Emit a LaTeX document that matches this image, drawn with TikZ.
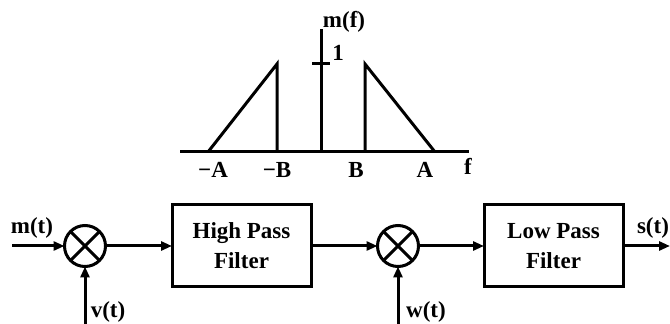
\documentclass[tikz,border=0pt]{standalone}
\usepackage{amsmath}
\usepackage{fontspec}
\setmainfont{Liberation Serif}
\usepackage{tikz}
\usetikzlibrary{arrows.meta}

\begin{document}
\begin{tikzpicture}[x=1pt, y=1pt, line width=3pt,
  every node/.style={font=\fontsize{23}{25}\selectfont\bfseries},
  mixer/.style={draw, circle, minimum size=41pt, inner sep=0pt, outer sep=0pt},
  filterbox/.style={draw, minimum width=139pt, minimum height=82pt, align=center,
    outer sep=0pt, font=\fontsize{23}{30}\selectfont\bfseries},
  sig/.style={-{Triangle[length=11pt,width=9pt]}}]
\useasboundingbox (0,0) rectangle (670,324);

% Spectrum
\draw (180,172) -- (469,172);
\draw (321,172) -- (321,295);
\draw (312,260) -- (330,260);
\draw (208,172) -- (277,260) -- (277,172);
\draw (365,172) -- (365,260) -- (435,172);

\node (mf) at (344,302) {m(f)};
\node (one) at (338,271) {1};
\node (mA) at (213,154) {−A};
\node (mB) at (277,154) {−B};
\node (pB) at (356,154) {B};
\node (pA) at (425,154) {A};
\node (fax) at (468,158) {f};

% Block diagram
\node[mixer] (mix1) at (85,78) {};
\draw (mix1.45) -- (mix1.225) (mix1.135) -- (mix1.315);
\node[filterbox] (hpf) at (241.5,78) {High Pass\\Filter};
\node[mixer] (mix2) at (398,78) {};
\draw (mix2.45) -- (mix2.225) (mix2.135) -- (mix2.315);
\node[filterbox] (lpf) at (553.5,78) {Low Pass\\Filter};

\coordinate (in) at (12,78);
\coordinate (out) at (670,78);
\coordinate (vin) at (85,0);
\coordinate (win) at (398,0);

\draw[sig] (in) -- (mix1);
\draw[sig] (vin) -- (mix1);
\draw[sig] (mix1) -- (hpf);
\draw[sig] (hpf) -- (mix2);
\draw[sig] (win) -- (mix2);
\draw[sig] (mix2) -- (lpf);
\draw[sig] (lpf) -- (out);

% Signal labels
\node (mt) at (32,96) {m(t)};
\node (vt) at (108,12) {v(t)};
\node (wt) at (426,12) {w(t)};
\node (st) at (653,96) {s(t)};

\end{tikzpicture}
\end{document}
